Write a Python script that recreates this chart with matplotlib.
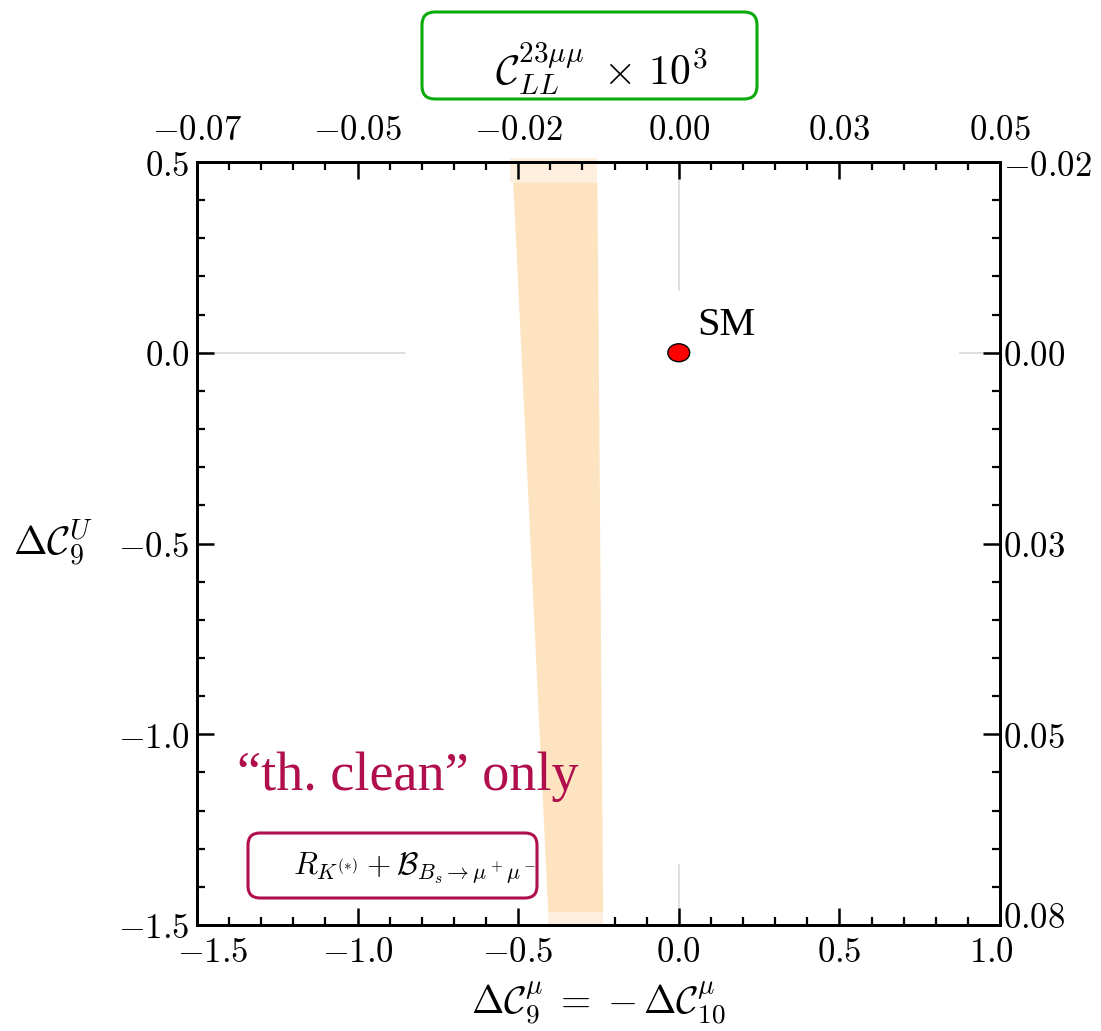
import numpy as np
import matplotlib
matplotlib.use("Agg")
import matplotlib.pyplot as plt
from matplotlib.patches import Ellipse, FancyBboxPatch
from matplotlib.ticker import MultipleLocator
from matplotlib.transforms import ScaledTranslation

plt.rcParams['mathtext.fontset'] = 'cm'

# ---- data ----
xlim = (-1.5, 1.0)
ylim = (-1.5, 0.5)
xticks = [-1.5, -1.0, -0.5, 0.0, 0.5, 1.0]
yticks = [0.5, 0.0, -0.5, -1.0, -1.5]
xticklabels = ['-1.5', '-1.0', '-0.5', '0.0', '0.5', '1.0']
yticklabels = ['0.5', '0.0', '-0.5', '-1.0', '-1.5']
top_labels = ['-0.07', '-0.05', '-0.02', '0.00', '0.03', '0.05']
right_labels = ['-0.02', '0.00', '0.03', '0.05', '0.08']

# 1 sigma band of R_K(*) + B_s->mumu
band_y = [0.448, -1.466]
band_xlo = [-0.517, -0.408]
band_xhi = [-0.255, -0.237]
# lighter ends of the band
cap_top_y = [0.51, 0.448]
cap_top_x = [-0.526, -0.255]
cap_bot_y = [-1.466, -1.505]
cap_bot_x = [-0.408, -0.237]

sm_point = (0.0, 0.0)

# light grey guide lines (partly hidden)
hline_segs = [(-1.5, -0.853), (0.875, 1.0)]
vline_segs = [(0.164, 0.5), (-1.5, -1.343)]

band_col = '#FDE3BF'
cap_col = '#FEEEDD'
crimson = '#B00E4C'
green = '#0BAA0B'


def m(s):
    return '$' + s + '$'


fig = plt.figure(figsize=(11.01, 10.31), dpi=100)
ax = fig.add_axes([197/1101, 1-925/1031, 803/1101, 763/1031])
ax.set_xlim(*xlim)
ax.set_ylim(*ylim)

for x0, x1 in hline_segs:
    ax.plot([x0, x1], [0, 0], color='#d9d9d9', lw=1.2, zorder=1)
for y0, y1 in vline_segs:
    ax.plot([0, 0], [y0, y1], color='#d9d9d9', lw=1.2, zorder=1)

ax.fill_betweenx(band_y, band_xlo, band_xhi, color=band_col, lw=0, zorder=2)
ax.fill_betweenx(cap_top_y, [cap_top_x[0]]*2, [cap_top_x[1]]*2, color=cap_col,
                 lw=0, zorder=2, clip_on=False)
ax.fill_betweenx(cap_bot_y, [cap_bot_x[0]]*2, [cap_bot_x[1]]*2, color=cap_col,
                 lw=0, zorder=2, clip_on=False)

ax.add_patch(Ellipse(sm_point, 0.068, 0.047, facecolor='red', edgecolor='k',
                     lw=1.0, zorder=5))
ax.text(0.056, 0.047, 'SM', fontsize=29, family='Liberation Serif', va='baseline')
ax.text(-1.377, -1.146, '\u201cth. clean\u201d only', fontsize=39,
        family='Liberation Serif', color=crimson, va='baseline', zorder=6)

ax.set_xticks(xticks)
ax.set_xticklabels([m(s) for s in xticklabels])
ax.set_yticks(yticks)
ax.set_yticklabels([m(s) for s in yticklabels])
ax.xaxis.set_minor_locator(MultipleLocator(0.1))
ax.yaxis.set_minor_locator(MultipleLocator(0.1))

axt = ax.twiny()
axt.set_xlim(*xlim)
axt.set_xticks(xticks)
axt.set_xticklabels([m(s) for s in top_labels])
axt.xaxis.set_minor_locator(MultipleLocator(0.1))

axr = ax.twinx()
axr.set_ylim(*ylim)
axr.set_yticks(yticks)
axr.set_yticklabels([m(s) for s in right_labels])
axr.yaxis.set_minor_locator(MultipleLocator(0.1))

for a in (ax, axt, axr):
    a.tick_params(which='major', direction='in', length=12, width=1.8,
                  labelsize=25, pad=5)
    a.tick_params(which='minor', direction='in', length=6, width=1.6)
    for sp in a.spines.values():
        sp.set_linewidth(2.0)
ax.tick_params(axis='x', pad=7)
axr.tick_params(axis='y', pad=2)
axt.tick_params(axis='x', pad=11)

# edge labels nudged inwards as in the original
def nudge(lbl, dx, dy):
    lbl.set_transform(lbl.get_transform() +
                      ScaledTranslation(dx/100, dy/100, fig.dpi_scale_trans))

xl = ax.get_xticklabels()
nudge(xl[0], 16, 0)
nudge(xl[-1], -9, 0)
nudge(axr.get_yticklabels()[-1], 0, 11)

ax.set_xlabel(r'$\Delta\mathcal{C}_9^\mu\;=\;{-}\,\Delta\mathcal{C}_{10}^\mu$',
              fontsize=28, labelpad=8)
ax.set_ylabel(r'$\Delta\mathcal{C}_9^U$', fontsize=29, rotation=0,
              ha='right', va='center', labelpad=18)

# annotation boxes (inches from bottom-left)
H = 10.31
fig.add_artist(FancyBboxPatch((4.22, H-0.99), 3.35, 0.87,
                              boxstyle='round,pad=0,rounding_size=0.13',
                              transform=fig.dpi_scale_trans, fill=False,
                              edgecolor=green, lw=2.2))
fig.text(4.95, H-0.84, r'$\mathcal{C}_{LL}^{23\mu\mu}\;\times\,10^3$',
         fontsize=30, va='baseline', transform=fig.dpi_scale_trans)

fig.add_artist(FancyBboxPatch((2.48, H-8.98), 2.89, 0.65,
                              boxstyle='round,pad=0,rounding_size=0.12',
                              transform=fig.dpi_scale_trans, fill=False,
                              edgecolor=crimson, lw=2.2))
fig.text(2.93, H-8.75, r'$R_{K^{(*)}} + \mathcal{B}_{B_s\to\mu^+\mu^-}$',
         fontsize=22.5, va='baseline', transform=fig.dpi_scale_trans)

fig.savefig('out.png', dpi=100, facecolor='w')
